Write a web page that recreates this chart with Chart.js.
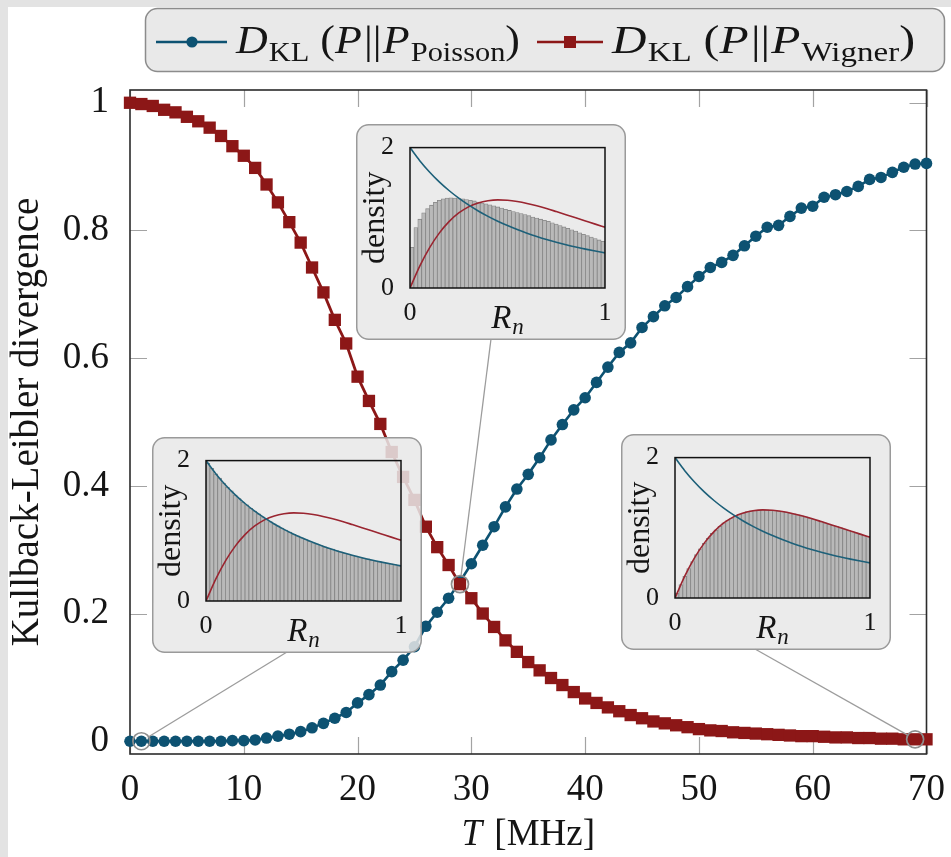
<!DOCTYPE html>
<html><head><meta charset="utf-8">
<script src="https://cdn.jsdelivr.net/npm/chart.js@4.4.1/dist/chart.umd.min.js"></script>
<style>
html,body{margin:0;padding:0;background:#fff;}
#wrap{position:relative;width:951px;height:857px;overflow:hidden;}
canvas{position:absolute;}
</style></head><body>
<div id="wrap">
<canvas id="main" width="951" height="857" style="left:0;top:0;width:951px;height:857px"></canvas>
<canvas id="in1" width="270" height="216" style="left:152px;top:437px;width:270px;height:216px"></canvas>
<canvas id="in2" width="270" height="216" style="left:356px;top:124px;width:270px;height:216px"></canvas>
<canvas id="in3" width="270" height="216" style="left:621px;top:434px;width:270px;height:216px"></canvas>
</div>
<script>
// ---------------- data ----------------
const T = [0,1,2,3,4,5,6,7,8,9,10,11,12,13,14,15,16,17,18,19,20,21,22,23,24,25,26,27,28,29,30,31,32,33,34,35,36,37,38,39,40,41,42,43,44,45,46,47,48,49,50,51,52,53,54,55,56,57,58,59,60,61,62,63,64,65,66,67,68,69,70];
const dklPoisson = [0.000,0.000,0.000,0.000,0.000,0.000,0.000,0.000,0.000,0.001,0.001,
 0.002,0.005,0.008,0.011,0.015,0.021,0.028,0.036,0.045,0.060,
 0.073,0.088,0.109,0.127,0.148,0.180,0.202,0.224,0.250,0.278,
 0.307,0.336,0.367,0.395,0.418,0.444,0.472,0.496,0.519,0.538,
 0.562,0.586,0.609,0.624,0.648,0.665,0.682,0.695,0.712,0.728,
 0.742,0.750,0.761,0.776,0.791,0.805,0.808,0.822,0.835,0.838,
 0.852,0.856,0.861,0.869,0.880,0.883,0.891,0.899,0.904,0.905];
const dklWigner = [1.000,0.998,0.995,0.989,0.985,0.978,0.971,0.961,0.948,0.932,0.917,
 0.898,0.872,0.844,0.813,0.781,0.742,0.703,0.660,0.623,0.571,
 0.533,0.497,0.453,0.414,0.378,0.336,0.304,0.276,0.246,0.224,
 0.200,0.179,0.158,0.140,0.124,0.111,0.099,0.088,0.077,0.067,
 0.060,0.053,0.047,0.041,0.036,0.031,0.028,0.025,0.022,0.019,
 0.017,0.016,0.014,0.013,0.012,0.011,0.010,0.009,0.008,0.008,
 0.007,0.006,0.006,0.005,0.005,0.004,0.004,0.003,0.003,0.003];
const xTicks = [0,10,20,30,40,50,60,70];
const yTicks = [0,0.2,0.4,0.6,0.8,1];
const yTickLabels = ['0','0.2','0.4','0.6','0.8','1'];

// inset histograms (50 bins on [0,1])
const binCenters = [0.01,0.03,0.05,0.07,0.09,0.11,0.13,0.15,0.17,0.19,0.21,0.23,0.25,0.27,0.29,0.31,0.33,0.35,0.37,0.39,0.41,0.43,0.45,0.47,0.49,0.51,0.53,0.55,0.57,0.59,0.61,0.63,0.65,0.67,0.69,0.71,0.73,0.75,0.77,0.79,0.81,0.83,0.85,0.87,0.89,0.91,0.93,0.95,0.97,0.99];
const histT1 = [1.96,1.89,1.81,1.75,1.68,1.62,1.57,1.51,1.46,1.41,1.37,1.32,1.28,1.24,1.20,1.17,1.13,1.10,1.07,1.04,1.01,0.98,0.95,0.93,0.90,0.88,0.85,0.83,0.81,0.79,0.77,0.75,0.74,0.72,0.70,0.68,0.67,0.65,0.64,0.62,0.61,0.60,0.58,0.57,0.56,0.55,0.54,0.53,0.52,0.50];
const histT29 = [0.58,0.86,0.98,1.07,1.13,1.18,1.22,1.25,1.27,1.28,1.285,1.28,1.275,1.27,1.26,1.25,1.24,1.225,1.21,1.20,1.185,1.17,1.155,1.14,1.12,1.105,1.09,1.075,1.06,1.045,1.03,1.01,0.995,0.98,0.965,0.95,0.93,0.91,0.89,0.87,0.85,0.83,0.81,0.785,0.765,0.745,0.725,0.705,0.685,0.665];
const histT69 = [0.07,0.19,0.31,0.42,0.52,0.62,0.70,0.78,0.85,0.92,0.97,1.02,1.07,1.11,1.14,1.17,1.19,1.21,1.23,1.24,1.245,1.25,1.255,1.255,1.25,1.247,1.24,1.232,1.222,1.211,1.198,1.185,1.171,1.156,1.14,1.124,1.107,1.089,1.072,1.054,1.036,1.018,1.0,0.982,0.964,0.946,0.928,0.91,0.893,0.875];
// reference curves in the insets
const curveR = [0,0.05,0.1,0.15,0.2,0.25,0.3,0.35,0.4,0.45,0.5,0.55,0.6,0.65,0.7,0.75,0.8,0.85,0.9,0.95,1];
const curvePoisson = [2,1.814,1.653,1.512,1.389,1.28,1.183,1.097,1.020,0.951,0.889,0.832,0.781,0.735,0.692,0.653,0.617,0.584,0.554,0.526,0.5];
const curveWigner = [0,0.312,0.572,0.782,0.946,1.069,1.156,1.212,1.243,1.255,1.250,1.232,1.205,1.171,1.132,1.089,1.045,1.000,0.955,0.910,0.866];
const insetT = [1, 29, 69];
const insetD = [0, 0.246, 0.003];
const insetHists = [histT1, histT29, histT69];

// ---------------- style ----------------
const BLUE = '#0d5272', RED = '#8c1717';
const IBLUE = '#1d6079', IRED = '#9a2530';
const FONT = '"Liberation Serif", "Times New Roman", serif';
const INK = '#151515';

function drawRich(ctx, parts, x, base, size, subSize, subDrop, targetW, align) {
  let w = 0;
  const fontOf = p => (p.it ? 'italic ' : '') + (p.sub ? subSize : size) + 'px ' + FONT;
  parts.forEach(p => { ctx.font = fontOf(p); p.w = ctx.measureText(p.t).width + (p.gap || 0); w += p.w; });
  const k = targetW ? targetW / w : 1;
  ctx.save();
  ctx.translate(align === 'center' ? x - w * k / 2 : x, base);
  ctx.scale(k, 1);
  ctx.fillStyle = INK; ctx.textBaseline = 'alphabetic'; ctx.textAlign = 'left';
  let cx = 0;
  parts.forEach(p => { ctx.font = fontOf(p); ctx.fillText(p.t, cx, p.sub ? subDrop : 0); cx += p.w; });
  ctx.restore();
}

const mainDecor = {
  id: 'mainDecor',
  beforeDraw(chart) {
    const ctx = chart.ctx;
    ctx.save();
    ctx.fillStyle = '#ffffff'; ctx.fillRect(0, 0, chart.width, chart.height);
    ctx.fillStyle = '#e3e3e3';
    ctx.fillRect(0, 0, chart.width, 7);
    ctx.fillRect(0, 0, 8, chart.height);
    ctx.restore();
  },
  beforeDatasetsDraw(chart) {
    const ctx = chart.ctx, a = chart.chartArea, xs = chart.scales.x, ys = chart.scales.y;
    ctx.save();
    ctx.strokeStyle = '#a3a3a3'; ctx.lineWidth = 1.2;
    ctx.beginPath();
    xTicks.forEach(v => {
      const px = Math.round(xs.getPixelForValue(v)) + 0.5;
      ctx.moveTo(px, a.bottom); ctx.lineTo(px, a.bottom - 17);
      ctx.moveTo(px, a.top); ctx.lineTo(px, a.top + 17);
    });
    yTicks.forEach(v => {
      const py = Math.round(ys.getPixelForValue(v)) + 0.5;
      ctx.moveTo(a.left, py); ctx.lineTo(a.left + 17, py);
      ctx.moveTo(a.right, py); ctx.lineTo(a.right - 17, py);
    });
    ctx.stroke();
    ctx.strokeStyle = '#2b2b2b'; ctx.lineWidth = 1.6;
    ctx.strokeRect(a.left, a.top, a.right - a.left, a.bottom - a.top);
    ctx.restore();
  },
  afterDatasetsDraw(chart) {
    const ctx = chart.ctx, xs = chart.scales.x, ys = chart.scales.y;
    const anchors = [[287, 652], [491, 339], [755, 649]];
    ctx.save();
    insetT.forEach((t, i) => {
      const cx = xs.getPixelForValue(t), cy = ys.getPixelForValue(insetD[i]);
      const [ax, ay] = anchors[i];
      const dx = ax - cx, dy = ay - cy, L = Math.hypot(dx, dy), r = 8.5;
      ctx.strokeStyle = '#9c9c9c'; ctx.lineWidth = 1.3;
      ctx.beginPath(); ctx.moveTo(ax, ay); ctx.lineTo(cx + dx / L * r, cy + dy / L * r); ctx.stroke();
      ctx.strokeStyle = '#8e8e8e'; ctx.lineWidth = 1.7;
      ctx.beginPath(); ctx.arc(cx, cy, r, 0, Math.PI * 2); ctx.stroke();
    });
    ctx.restore();
  },
  afterDraw(chart) {
    const ctx = chart.ctx, a = chart.chartArea;
    // x axis title
    drawRich(ctx, [{t: 'T', it: 1, gap: 3}, {t: ' [MHz]'}], (a.left + a.right) / 2, 845, 37, 26, 0, 0, 'center');
    // legend
    ctx.save();
    ctx.beginPath(); ctx.roundRect(145.5, 8.5, 799, 63, 12);
    ctx.fillStyle = '#e9e9e9'; ctx.fill();
    ctx.strokeStyle = '#8c8c8c'; ctx.lineWidth = 1.5; ctx.stroke();
    ctx.lineWidth = 2.6;
    ctx.strokeStyle = BLUE; ctx.beginPath(); ctx.moveTo(156, 42); ctx.lineTo(227, 42); ctx.stroke();
    ctx.fillStyle = BLUE; ctx.beginPath(); ctx.arc(192, 42, 5.6, 0, Math.PI * 2); ctx.fill();
    ctx.strokeStyle = RED; ctx.beginPath(); ctx.moveTo(537, 42); ctx.lineTo(603, 42); ctx.stroke();
    ctx.fillStyle = RED; ctx.fillRect(564, 36, 12, 12);
    ctx.restore();
    const mk = name => [{t: 'D', it: 1, gap: 1}, {t: 'KL', sub: 1}, {t: ' ('}, {t: 'P', it: 1, gap: 2}, {t: '||', gap: 1}, {t: 'P', it: 1, gap: 1}, {t: name, sub: 1}, {t: ')'}];
    drawRich(ctx, mk('Poisson'), 236, 53, 39, 27, 8, 284);
    drawRich(ctx, mk('Wigner'), 612, 53, 39, 27, 8, 303);
  }
};

new Chart(document.getElementById('main'), {
  type: 'line',
  data: {
    datasets: [
      {label: 'D_KL (P||P_Poisson)', data: T.map((t, i) => ({x: t, y: dklPoisson[i]})),
       borderColor: BLUE, backgroundColor: BLUE, borderWidth: 2.6, pointStyle: 'circle',
       pointRadius: 5.8, pointHoverRadius: 5.8, pointBorderWidth: 0, clip: false, order: 2},
      {label: 'D_KL (P||P_Wigner)', data: T.map((t, i) => ({x: t, y: dklWigner[i]})),
       borderColor: RED, backgroundColor: RED, borderWidth: 2.8, pointStyle: 'rect',
       pointRadius: 8.7, pointHoverRadius: 8.7, pointBorderWidth: 0, clip: false, order: 1}
    ]
  },
  options: {
    responsive: false, animation: false, devicePixelRatio: 1,
    layout: {padding: {top: 90, right: 20, left: 0, bottom: 0}},
    plugins: {legend: {display: false}, tooltip: {enabled: false}},
    scales: {
      x: {type: 'linear', min: 0, max: 70,
          afterFit: s => { s.height = 103; },
          afterBuildTicks: s => { s.ticks = xTicks.map(v => ({value: v})); },
          grid: {display: false}, border: {display: false},
          ticks: {font: {family: FONT, size: 37}, color: INK, padding: 6, maxRotation: 0, autoSkip: false,
                  callback: v => String(v)}},
      y: {type: 'linear', min: -0.02, max: 1.02,
          afterFit: s => { s.width = 130; },
          afterBuildTicks: s => { s.ticks = yTicks.map(v => ({value: v})); },
          grid: {display: false}, border: {display: false},
          ticks: {font: {family: FONT, size: 37}, color: INK, padding: 13, autoSkip: false,
                  callback: (v, i) => yTickLabels[i]},
          title: {display: true, text: 'Kullback-Leibler divergence', color: INK,
                  font: {family: FONT, size: 39}, padding: {top: 4, bottom: 0}}}
    }
  },
  plugins: [mainDecor]
});

// ---------------- insets ----------------
const insetDecor = {
  id: 'insetDecor',
  beforeDraw(chart) {
    const ctx = chart.ctx;
    ctx.save();
    ctx.beginPath(); ctx.roundRect(0.75, 0.75, chart.width - 1.5, chart.height - 1.5, 12);
    ctx.fillStyle = 'rgba(232,232,232,0.86)'; ctx.fill();
    ctx.strokeStyle = '#9a9a9a'; ctx.lineWidth = 1.5; ctx.stroke();
    ctx.restore();
  },
  afterDatasetsDraw(chart) {
    const ctx = chart.ctx, a = chart.chartArea;
    ctx.save(); ctx.strokeStyle = '#111'; ctx.lineWidth = 1.5;
    ctx.strokeRect(a.left, a.top, a.right - a.left, a.bottom - a.top);
    ctx.restore();
  },
  afterDraw(chart) {
    const a = chart.chartArea;
    drawRich(chart.ctx, [{t: 'R', it: 1, gap: 1}, {t: 'n', it: 1, sub: 1}], (a.left + a.right) / 2, a.bottom + 40, 33, 23, 6, 0, 'center');
  }
};

['in1', 'in2', 'in3'].forEach((id, k) => {
  new Chart(document.getElementById(id), {
    type: 'bar',
    data: {
      datasets: [
        {type: 'line', label: 'Poisson', data: curveR.map((r, i) => ({x: r, y: curvePoisson[i]})),
         borderColor: IBLUE, borderWidth: 1.6, pointRadius: 0, cubicInterpolationMode: 'monotone', order: 1},
        {type: 'line', label: 'Wigner', data: curveR.map((r, i) => ({x: r, y: curveWigner[i]})),
         borderColor: IRED, borderWidth: 1.6, pointRadius: 0, cubicInterpolationMode: 'monotone', order: 1},
        {type: 'bar', label: 'T = ' + insetT[k] + ' MHz', data: binCenters.map((r, i) => ({x: r, y: insetHists[k][i]})),
         backgroundColor: '#b9b9b9', borderColor: '#858585', borderWidth: 0.8, borderSkipped: 'start',
         barPercentage: 1, categoryPercentage: 1, order: 2}
      ]
    },
    options: {
      responsive: false, animation: false, devicePixelRatio: 1,
      layout: {padding: {top: 22, right: 21, left: 0, bottom: 0}},
      plugins: {legend: {display: false}, tooltip: {enabled: false}},
      scales: {
        x: {type: 'linear', min: 0, max: 1, offset: false,
            afterFit: s => { s.height = 52; },
            afterBuildTicks: s => { s.ticks = [{value: 0}, {value: 1}]; },
            grid: {display: false}, border: {display: false},
            ticks: {font: {family: FONT, size: 26}, color: INK, padding: 2, maxRotation: 0, autoSkip: false,
                    callback: v => String(v)}},
        y: {type: 'linear', min: 0, max: 2,
            afterFit: s => { s.width = 54; },
            afterBuildTicks: s => { s.ticks = [{value: 0}, {value: 2}]; },
            grid: {display: false}, border: {display: false},
            ticks: {font: {family: FONT, size: 26}, color: INK, padding: 8, autoSkip: false,
                    callback: v => String(v)},
            title: {display: true, text: 'density', color: INK,
                    font: {family: FONT, size: 32}, padding: {top: 0, bottom: 0}}}
      }
    },
    plugins: [insetDecor]
  });
});
</script>
</body></html>
